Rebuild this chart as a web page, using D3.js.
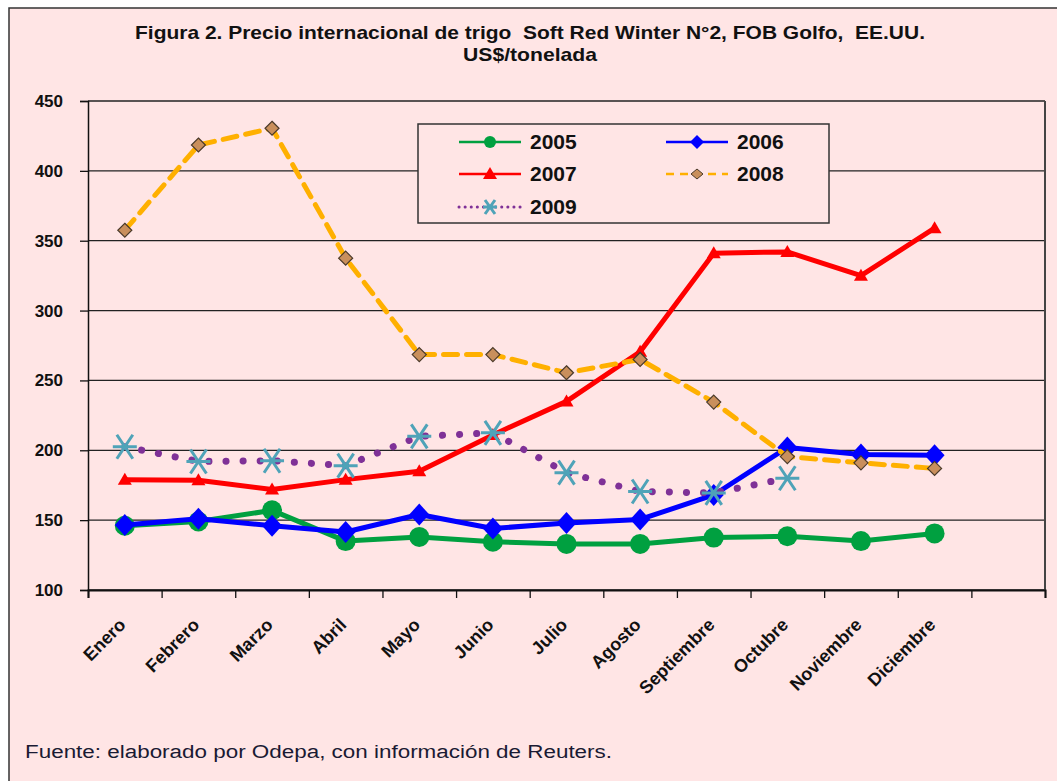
<!DOCTYPE html>
<html>
<head>
<meta charset="utf-8">
<script src="https://cdn.jsdelivr.net/npm/d3@7"></script>
<style>
  body { margin: 0; background: #fff; }
  svg text { font-family: "Liberation Sans", Arial, sans-serif; }
</style>
</head>
<body>
<svg id="chart" width="1057" height="781"></svg>
<script>
// months on the x axis (one extra empty slot at the end, like the original)
const months = ['Enero', 'Febrero', 'Marzo', 'Abril', 'Mayo', 'Junio', 'Julio',
  'Agosto', 'Septiembre', 'Octubre', 'Noviembre', 'Diciembre'];
const yTicks = [100, 150, 200, 250, 300, 350, 400, 450];

const v2005 = [146, 149, 157, 135, 138, 134.5, 133, 133, 137.5, 138.5, 135, 140.5];
const v2006 = [146.5, 151, 146, 141.5, 154, 144, 148, 150.5, 168, 202, 197, 196.5];
const v2007 = [179, 178.5, 172, 179, 185, 211, 235, 270.5, 341, 342, 325, 359];
const v2008 = [357.5, 418.5, 430.5, 337.5, 268.5, 268.5, 255.5, 265, 234.5, 195.5, 191, 187];
const v2009 = [202.5, 192, 192.5, 189, 210, 212.5, 184, 170.5, 169.5, 180, null, null];

const series = [
  {name: '2005', values: v2005, color: '#00a040', dash: null, marker: 'circle'},
  {name: '2006', values: v2006, color: '#0000ff', dash: null, marker: 'diamond'},
  {name: '2007', values: v2007, color: '#ff0000', dash: null, marker: 'triangle'},
  {name: '2008', values: v2008, color: '#ffb000', dash: '14,9', marker: 'smalldiamond'},
  {name: '2009', values: v2009, color: '#7f3197', dash: '0.1,17', marker: 'star'}
];

const svg = d3.select('svg#chart');
const margin = {top: 101, right: 12, bottom: 191, left: 88};
const width = +svg.attr('width') - margin.left - margin.right;
const height = +svg.attr('height') - margin.top - margin.bottom;

// frame
svg.append('rect')
  .attr('x', 9).attr('y', 8)
  .attr('width', 1100).attr('height', 900)
  .attr('fill', '#ffe5e5')
  .attr('stroke', '#333').attr('stroke-width', 1.5);

svg.append('text')
  .attr('x', 530).attr('y', 39)
  .attr('text-anchor', 'middle')
  .attr('font-size', 19).attr('font-weight', 'bold')
  .attr('fill', '#111')
  .attr('textLength', 790).attr('lengthAdjust', 'spacingAndGlyphs')
  .style('white-space', 'pre')
  .text('Figura 2. Precio internacional de trigo  Soft Red Winter N°2, FOB Golfo,  EE.UU.');
svg.append('text')
  .attr('x', 530).attr('y', 61)
  .attr('text-anchor', 'middle')
  .attr('font-size', 19).attr('font-weight', 'bold')
  .attr('fill', '#111')
  .attr('textLength', 134).attr('lengthAdjust', 'spacingAndGlyphs')
  .text('US$/tonelada');

svg.append('text')
  .attr('x', 25).attr('y', 758)
  .attr('font-size', 18)
  .attr('fill', '#1a1a33')
  .attr('textLength', 587).attr('lengthAdjust', 'spacingAndGlyphs')
  .text('Fuente: elaborado por Odepa, con información de Reuters.');

const g = svg.append('g').attr('transform', `translate(${margin.left},${margin.top})`);

const slots = months.length + 1;
const x = d3.scaleLinear().domain([0, slots]).range([0, width]);
const y = d3.scaleLinear().domain([100, 450]).range([height, 0]);

// gridlines
g.append('g')
  .selectAll('line')
  .data(yTicks)
  .join('line')
  .attr('x1', 0).attr('x2', width)
  .attr('y1', d => y(d)).attr('y2', d => y(d))
  .attr('stroke', '#222').attr('stroke-width', 1.3);

// right border of plot area
g.append('line')
  .attr('x1', width).attr('x2', width)
  .attr('y1', 0).attr('y2', height)
  .attr('stroke', '#444').attr('stroke-width', 2);

// y axis
const yAxis = g.append('g')
  .call(d3.axisLeft(y).tickValues(yTicks).tickSize(8).tickPadding(17));
yAxis.select('.domain').attr('stroke', '#111').attr('stroke-width', 1.5);
yAxis.selectAll('.tick line').attr('stroke', '#111').attr('stroke-width', 1.3);
yAxis.selectAll('.tick text')
  .attr('font-size', 17).attr('font-weight', 'bold')
  .attr('font-family', '"Liberation Sans", Arial, sans-serif')
  .attr('fill', '#111');

// x axis: ticks on slot boundaries, labels under slot centres
const xAxis = g.append('g')
  .attr('transform', `translate(0,${height})`)
  .call(d3.axisBottom(x).tickValues(d3.range(0, slots + 1)).tickSize(8).tickFormat(''));
xAxis.select('.domain').attr('stroke', '#111').attr('stroke-width', 2);
xAxis.selectAll('.tick line').attr('stroke', '#111').attr('stroke-width', 1.3);

g.append('g')
  .selectAll('text')
  .data(months)
  .join('text')
  .attr('transform', (d, i) => `translate(${x(i + 0.5) + 2},${height + 36}) rotate(-45)`)
  .attr('text-anchor', 'end')
  .attr('font-size', 18).attr('font-weight', 'bold')
  .attr('fill', '#111')
  .text(d => d);

// markers
function drawMarker(sel, type, color) {
  if (type === 'circle') {
    sel.append('circle').attr('r', 10).attr('fill', color);
  } else if (type === 'diamond') {
    sel.append('path').attr('d', 'M0,-11L10,0L0,11L-10,0Z').attr('fill', color);
  } else if (type === 'triangle') {
    sel.append('path').attr('d', 'M0,-7L7,5L-7,5Z').attr('fill', color);
  } else if (type === 'smalldiamond') {
    sel.append('path').attr('d', 'M0,-7L7,0L0,7L-7,0Z')
      .attr('fill', '#c98f5c').attr('stroke', '#4a3a2a').attr('stroke-width', 1.2);
  } else if (type === 'star') {
    sel.append('path')
      .attr('d', 'M-12,0L12,0M-8,-12L8,12M8,-12L-8,12')
      .attr('stroke', '#4fa3b8').attr('stroke-width', 3).attr('fill', 'none');
  }
}

const line = d3.line()
  .defined(d => d != null)
  .x((d, i) => x(i + 0.5))
  .y(d => y(d));

series.forEach(s => {
  const sg = g.append('g');
  sg.append('path')
    .datum(s.values)
    .attr('fill', 'none')
    .attr('stroke', s.color)
    .attr('stroke-width', s.marker === 'star' ? 7 : 5)
    .attr('stroke-linecap', 'round')
    .attr('stroke-linejoin', 'round')
    .attr('stroke-dasharray', s.dash)
    .attr('d', line);
  s.values.forEach((v, i) => {
    if (v == null) return;
    const m = sg.append('g').attr('transform', `translate(${x(i + 0.5)},${y(v)})`);
    drawMarker(m, s.marker, s.color);
  });
});

// legend
const legend = svg.append('g');
legend.append('rect')
  .attr('x', 418).attr('y', 124)
  .attr('width', 411).attr('height', 99)
  .attr('fill', '#ffe5e5')
  .attr('stroke', '#333').attr('stroke-width', 1.5);

const legendPos = [
  {x: 459, y: 142}, {x: 666, y: 142},
  {x: 459, y: 174}, {x: 666, y: 174},
  {x: 459, y: 207}
];
series.forEach((s, i) => {
  const p = legendPos[i];
  const lg = legend.append('g').attr('transform', `translate(${p.x},${p.y})`);
  lg.append('line')
    .attr('x1', 0).attr('x2', 62)
    .attr('stroke', s.color)
    .attr('stroke-width', s.marker === 'star' ? 3 : 2.5)
    .attr('stroke-linecap', s.marker === 'star' ? 'round' : 'butt')
    .attr('stroke-dasharray', s.marker === 'star' ? '0.1,6' : (s.dash ? '8,6' : null));
  const m = lg.append('g').attr('transform', 'translate(31,0)');
  if (s.marker === 'circle') m.append('circle').attr('r', 6).attr('fill', s.color);
  else if (s.marker === 'diamond') m.append('path').attr('d', 'M0,-7L7,0L0,7L-7,0Z').attr('fill', s.color);
  else if (s.marker === 'triangle') m.append('path').attr('d', 'M0,-7L7,5L-7,5Z').attr('fill', s.color);
  else if (s.marker === 'smalldiamond') m.append('path').attr('d', 'M0,-5L6,0L0,5L-6,0Z')
    .attr('fill', '#c98f5c').attr('stroke', '#4a3a2a').attr('stroke-width', 1);
  else m.append('path').attr('d', 'M-7,0L7,0M-5,-7L5,7M5,-7L-5,7')
    .attr('stroke', '#4fa3b8').attr('stroke-width', 3);
  lg.append('text')
    .attr('x', 71).attr('y', 7)
    .attr('font-size', 21).attr('font-weight', 'bold')
    .attr('fill', '#111')
    .text(s.name);
});
</script>
</body>
</html>
